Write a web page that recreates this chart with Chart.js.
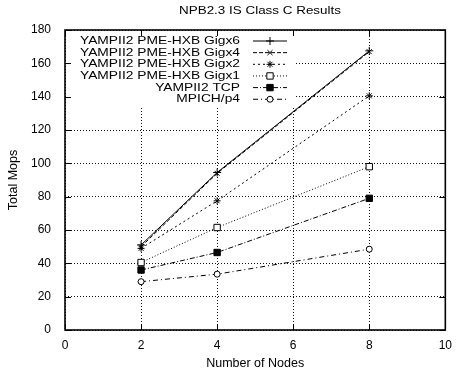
<!DOCTYPE html>
<html>
<head>
<meta charset="utf-8">
<title>NPB2.3 IS Class C Results</title>
<script src="https://cdn.jsdelivr.net/npm/chart.js@4"></script>
<style>
  html, body { margin: 0; padding: 0; background: #fff; }
</style>
</head>
<body>
<canvas id="isChart" width="460" height="373"></canvas>
<script>
// values
const nodes = [2, 4, 8];
const gigx6 = [51, 94.5, 167.5];
const gigx4 = [50, 94, 167];
const gigx2 = [49, 77.5, 140.5];
const gigx1 = [40.5, 61.5, 98];
const tcp = [36, 46.5, 79];
const mpich = [29, 33.5, 48.5];

const seriesNames = [
  'YAMPII2 PME-HXB Gigx6',
  'YAMPII2 PME-HXB Gigx4',
  'YAMPII2 PME-HXB Gigx2',
  'YAMPII2 PME-HXB Gigx1',
  'YAMPII2 TCP',
  'MPICH/p4'
];
const xTicks = [0, 2, 4, 6, 8, 10];
const yTicks = [0, 20, 40, 60, 80, 100, 120, 140, 160, 180];

const FONT = '"Liberation Sans", Arial, Helvetica, sans-serif';
Chart.defaults.font.family = FONT;
Chart.defaults.color = '#000';

function pts(values) {
  return nodes.map((n, i) => ({ x: n, y: values[i] }));
}

function series(label, values, dash, style, fill, radius) {
  return {
    label: label,
    data: pts(values),
    showLine: true,
    borderColor: '#000',
    borderWidth: 1,
    borderDash: dash,
    pointStyle: style,
    pointRadius: radius,
    pointBorderColor: '#000',
    pointBorderWidth: 1,
    pointBackgroundColor: fill
  };
}

const datasets = [
  series(seriesNames[0], gigx6, [], 'cross', '#000', 4),
  series(seriesNames[1], gigx4, [4, 2], 'crossRot', '#000', 3.5),
  series(seriesNames[2], gigx2, [2, 3], 'star', '#000', 3.5),
  series(seriesNames[3], gigx1, [1, 2], 'rect', '#fff', 4.5),
  series(seriesNames[4], tcp, [5, 2, 1, 2], 'rect', '#000', 4.5),
  series(seriesNames[5], mpich, [5, 3, 1, 3], 'circle', '#fff', 3)
];

function stretchedText(ctx, text, x, y, size, sx, align) {
  ctx.save();
  ctx.font = size + 'px ' + FONT;
  ctx.fillStyle = '#000';
  ctx.textAlign = align;
  ctx.textBaseline = 'middle';
  ctx.translate(x, y);
  ctx.scale(sx, 1);
  ctx.fillText(text, 0, 0);
  ctx.restore();
}

// gnuplot look: erased key box, framed plot, inward ticks, key on the left
const gnuplotFrame = {
  id: 'gnuplotFrame',
  beforeDatasetsDraw(chart) {
    const { ctx, chartArea: a } = chart;
    ctx.save();
    ctx.fillStyle = '#fff';
    ctx.fillRect(a.left + 1, a.top + 1, 295 - a.left, 106 - a.top);
    ctx.restore();
  },
  afterDraw(chart) {
    const { ctx, chartArea: a, scales } = chart;
    ctx.save();
    ctx.strokeStyle = '#000';
    ctx.setLineDash([]);
    ctx.lineWidth = 1;
    ctx.beginPath();
    xTicks.forEach(v => {
      const px = Math.round(scales.x.getPixelForValue(v)) + 0.5;
      ctx.moveTo(px, a.bottom); ctx.lineTo(px, a.bottom - 6);
      ctx.moveTo(px, a.top); ctx.lineTo(px, a.top + 6);
    });
    yTicks.forEach(v => {
      const py = Math.round(scales.y.getPixelForValue(v)) + 0.5;
      ctx.moveTo(a.left, py); ctx.lineTo(a.left + 6, py);
      ctx.moveTo(a.right, py); ctx.lineTo(a.right - 6, py);
    });
    ctx.stroke();
    ctx.lineWidth = 1.6;
    ctx.strokeRect(a.left, a.top, a.right - a.left, a.bottom - a.top);

    // key
    chart.data.datasets.forEach((ds, i) => {
      const y = 41 + i * 11.65;
      stretchedText(ctx, ds.label, 240, y, 11.5, 1.2, 'right');
      ctx.save();
      ctx.strokeStyle = '#000';
      ctx.lineWidth = 1;
      ctx.setLineDash(ds.borderDash);
      ctx.beginPath();
      ctx.moveTo(253, y);
      ctx.lineTo(287, y);
      ctx.stroke();
      ctx.setLineDash([]);
      ctx.fillStyle = ds.pointBackgroundColor;
      Chart.helpers.drawPoint(ctx, {
        pointStyle: ds.pointStyle,
        radius: ds.pointRadius,
        borderWidth: 1,
        rotation: 0
      }, 270, y);
      ctx.restore();
    });

    stretchedText(ctx, 'NPB2.3 IS Class C Results', 260, 11, 11.2, 1.2, 'center');
    ctx.restore();
  }
};

new Chart(document.getElementById('isChart'), {
  type: 'scatter',
  data: { datasets: datasets },
  options: {
    responsive: false,
    animation: false,
    layout: { padding: { top: 30, right: 7.7, left: 0, bottom: 0 } },
    plugins: {
      legend: { display: false },
      title: { display: false },
      tooltip: { enabled: false }
    },
    scales: {
      x: {
        type: 'linear',
        min: 0,
        max: 10,
        afterBuildTicks: s => { s.ticks = xTicks.map(v => ({ value: v })); },
        afterFit: s => { s.height = 43; },
        ticks: { font: { size: 12 }, padding: 8, maxRotation: 0 },
        grid: { color: '#111', lineWidth: 1, drawTicks: false },
        border: { display: false, dash: [1, 2] },
        title: {
          display: true,
          text: 'Number of Nodes',
          font: { size: 12.5 },
          padding: { top: 0, bottom: 2 }
        }
      },
      y: {
        type: 'linear',
        min: 0,
        max: 180,
        afterBuildTicks: s => { s.ticks = yTicks.map(v => ({ value: v })); },
        afterFit: s => { s.width = 65; },
        ticks: { font: { size: 12 }, padding: 14 },
        grid: { color: '#111', lineWidth: 1, drawTicks: false },
        border: { display: false, dash: [1, 2] },
        title: {
          display: true,
          text: 'Total Mops',
          font: { size: 12.5 },
          padding: { top: 6, bottom: 0 }
        }
      }
    }
  },
  plugins: [gnuplotFrame]
});
</script>
</body>
</html>
